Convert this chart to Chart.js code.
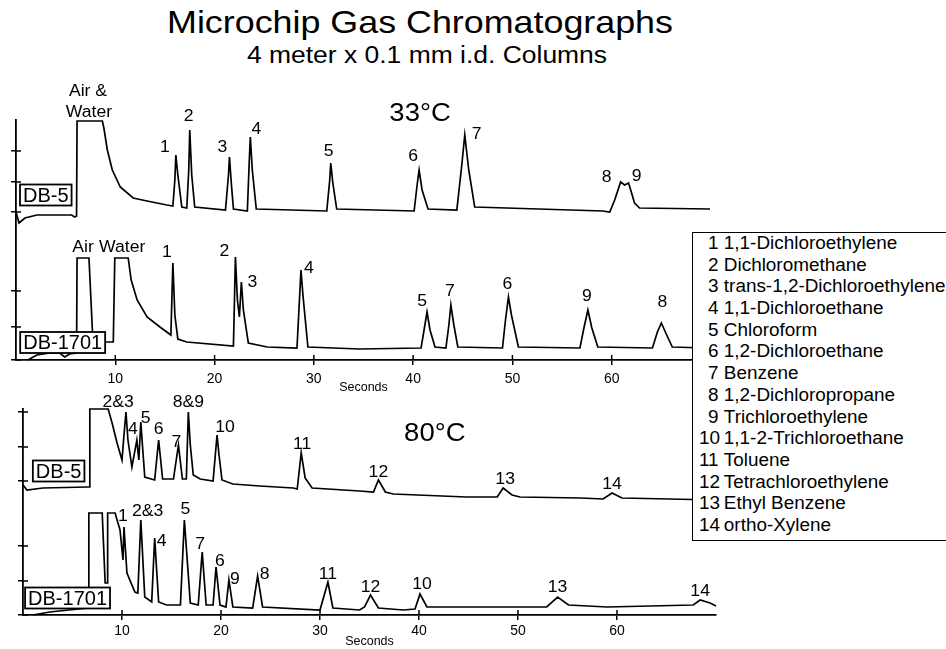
<!DOCTYPE html>
<html>
<head>
<meta charset="utf-8">
<script src="https://cdn.jsdelivr.net/npm/chart.js@4.4.0/dist/chart.umd.min.js"></script>
<style>
  html, body { margin: 0; padding: 0; background: #fff; }
  body { width: 946px; height: 649px; position: relative; overflow: hidden;
         font-family: "Liberation Sans", Arial, Helvetica, sans-serif; color: #000; }
  canvas { position: absolute; }
  #cold { left: 0; top: 80px; }
  #hot { left: 0; top: 380px; }
  .head { position: absolute; left: 0; width: 840px; text-align: center; white-space: nowrap; }
  #title { top: 6px; font-size: 32px; line-height: 32px; transform: scaleX(1.12); }
  #subtitle { top: 44px; font-size: 23px; line-height: 23px; left: 7px; transform: scaleX(1.15); }
  #key { position: absolute; left: 692px; top: 232px; width: 270px; height: 307px;
         border: 1.6px solid #000; background: #fff; z-index: 5; }
  #key .rows { position: absolute; left: 6px; top: 0; transform: scaleX(1.08); transform-origin: left top; }
  #key .row { height: 21.7px; line-height: 21.7px; font-size: 17.5px; white-space: nowrap; }
  #key .num { display: inline-block; width: 18px; text-align: right; margin-right: 5px; }
</style>
</head>
<body>
<div class="head" id="title">Microchip Gas Chromatographs</div>
<div class="head" id="subtitle">4 meter x 0.1 mm i.d. Columns</div>
<canvas id="cold" width="720" height="320"></canvas>
<canvas id="hot" width="730" height="269"></canvas>
<div id="key"><div class="rows"></div></div>
<script>
const FONT = '"Liberation Sans", Arial, Helvetica, sans-serif';

// axes
const secondTicks = [10, 20, 30, 40, 50, 60];
const coldSignalTicks = [0, 33, 69, 148, 178, 209];
const hotSignalTicks = [0, 34, 69, 134, 168, 203];

// compound key
const compoundNums = [1, 2, 3, 4, 5, 6, 7, 8, 9, 10, 11, 12, 13, 14];
const compoundNames = ['1,1-Dichloroethylene', 'Dichloromethane', 'trans-1,2-Dichloroethylene',
  '1,1-Dichloroethane', 'Chloroform', '1,2-Dichloroethane', 'Benzene', '1,2-Dichloropropane',
  'Trichloroethylene', '1,1-2-Trichloroethane', 'Toluene', 'Tetrachloroethylene',
  'Ethyl Benzene', 'ortho-Xylene'];

// traces: [seconds, detector signal]
const db5At33 = [[0,148],[0.3,137],[0.9,142],[2.1,145],[5.6,145],[5.9,143],[6.1,144],[6.15,239],
  [8.7,239],[8.85,232],[9.2,210],[9.7,190],[10.5,173],[11.8,162],[13.2,159],[15.2,155],[15.8,154],
  [16.0,180],[16.1,205],[16.3,185],[16.7,153],[17.2,152],[17.4,190],[17.5,230],[17.7,185],[18.0,153],
  [21.1,150],[21.4,185],[21.5,203],[21.7,175],[21.9,151],[23.3,149],[23.5,200],[23.6,223],[23.8,190],
  [24.2,151],[31.3,149],[31.6,180],[31.7,197],[31.9,178],[32.3,151],[40.1,149],[40.4,175],[40.6,190],
  [40.9,170],[41.5,151],[44.4,150],[44.9,195],[45.2,225],[45.6,190],[46.2,153],[59.1,149],[59.8,148],
  [60.3,160],[60.9,178],[61.3,175],[61.7,177],[62.3,157],[62.8,152],[69.9,151]];

const db1701At33 = [[1.2,0],[2.1,5],[3.4,7],[4.4,7],[4.9,3],[5.4,6],[6.1,7],[6.15,102],[7.35,102],
  [7.75,18],[9.8,18],[9.95,102],[11.3,102],[11.6,80],[12.2,60],[13.2,43],[14.5,33],[15.6,25],[15.8,97],
  [16.0,45],[16.3,21],[17.2,18],[21.9,14],[22.1,103],[22.3,60],[22.5,43],[22.7,78],[22.9,50],[23.4,17],
  [25.3,13],[28.3,12],[28.6,70],[28.7,90],[28.9,65],[29.4,13],[34.6,11],[40.8,12],[41.1,30],[41.4,48],
  [41.7,30],[42.2,13],[43.3,12],[43.6,35],[43.8,55],[44.1,35],[44.5,13],[49.0,12],[49.3,40],[49.6,63],
  [49.9,45],[50.6,13],[56.8,12],[57.2,32],[57.6,50],[58.0,32],[58.6,13],[64.1,12],[64.6,28],[65.0,37],
  [65.4,28],[66.1,13],[69.4,12],[70,12]];

const db5At80 = [[0,130],[0.4,125],[2.0,127],[6.5,128],[6.7,128],[6.75,206],[8.6,206],[9.0,192],
  [9.5,172],[10.0,155],[10.2,180],[10.4,203],[10.6,175],[11.0,148],[11.5,175],[11.7,155],[11.9,193],
  [12.1,165],[12.3,138],[13.3,135],[13.7,175],[14.1,136],[15.2,136],[15.7,170],[16.1,136],[16.5,136],
  [16.7,203],[16.9,170],[17.2,140],[17.9,136],[19.2,134],[19.6,180],[19.8,160],[20.1,135],[21.2,131],
  [23.9,129],[27.3,127],[27.7,126],[28.1,162],[28.5,137],[29.2,127],[34.0,124],[35.4,123],[35.9,135],
  [36.6,123],[37.4,121],[44.8,118],[47.9,118],[48.5,127],[49.4,120],[50.2,118],[56.3,117],[58.6,116],
  [59.5,122],[60.5,117],[70,115]];

const db1701At80 = [[1.0,0],[2.7,3],[6.6,7],[6.65,102],[8.0,102],[8.3,32],[8.5,32],[8.55,102],[9.3,102],
  [9.8,85],[10.1,55],[10.2,88],[10.5,42],[11.3,23],[11.6,22],[11.9,95],[12.3,18],[13.0,13],[13.3,77],
  [13.7,13],[14.5,10],[15.9,10],[16.3,95],[16.9,12],[17.7,10],[18.1,63],[18.5,10],[19.2,10],[19.5,48],
  [19.9,10],[20.5,8],[20.8,35],[21.2,8],[23.2,7],[23.7,39],[24.2,8],[30.0,5],[30.8,33],[31.3,7],[34.0,5],
  [34.5,8],[35.1,20],[35.9,7],[38.4,5],[39.6,6],[40.1,21],[40.8,8],[42.1,8],[52.9,8],[54.0,18],[55.1,10],
  [59.0,8],[67.7,10],[68.4,15],[69.4,12],[70,9]];

// peak labels: [text, seconds, signal]
const db5At33Peaks = [['Air &',7.25,268],['Water',7.35,247],['1',15.0,212],['2',17.4,243],['3',20.8,212],
  ['4',24.2,230],['5',31.5,208],['6',40.0,203],['7',46.4,225],['8',59.5,182],['9',62.5,183]];
const db1701At33Peaks = [['Air',6.75,112],['Water',10.7,112],['1',15.2,107],['2',21.0,108],['3',23.8,77],
  ['4',29.5,91],['5',40.9,58],['7',43.7,68],['6',49.5,75],['9',57.5,63],['8',65.1,57]];
const db5At80Peaks = [['2&3',9.6,212],['4',11.1,185],['5',12.4,196],['6',13.7,185],['7',15.5,172],
  ['8&9',16.7,212],['10',20.4,187],['11',28.2,170],['12',35.9,142],['13',48.7,135],['14',59.5,130]];
const db1701At80Peaks = [['1',10.1,98],['2&3',12.6,103],['4',14.0,73],['5',16.4,105],['7',17.9,70],
  ['6',19.9,53],['9',21.4,35],['8',24.4,40],['11',30.8,40],['12',35.1,27],['10',40.3,30],['13',54.0,27],
  ['14',68.4,23]];

const coldTags = [['DB-5', 3.0, 165], ['DB-1701', 4.7, 17.5]];
const hotTags = [['DB-5', 3.6, 144], ['DB-1701', 4.5, 17]];
const coldTemp = ['33°C', 40.7, 246];
const hotTemp = ['80°C', 41.6, 181];

// key box
const rows = document.querySelector('#key .rows');
compoundNums.forEach((n, i) => {
  const row = document.createElement('div');
  row.className = 'row';
  row.innerHTML = '<span class="num">' + n + '</span>' + compoundNames[i];
  rows.appendChild(row);
});

// peak numbers, column tags and temperature drawn on top of the traces
const annotate = {
  id: 'annotate',
  afterDatasetsDraw(chart, args, opts) {
    const ctx = chart.ctx;
    const x = chart.scales.x, y = chart.scales.y;
    ctx.save();

    // tick marks poke through the axes a little, like the plotter did
    ctx.strokeStyle = '#000';
    ctx.lineWidth = 1.5;
    ctx.beginPath();
    y.ticks.forEach(tk => {
      const py = y.getPixelForValue(tk.value);
      ctx.moveTo(x.left, py);
      ctx.lineTo(x.left + 5, py);
    });
    x.ticks.forEach(tk => {
      const px = x.getPixelForValue(tk.value);
      ctx.moveTo(px, y.bottom);
      ctx.lineTo(px, y.bottom - 5);
    });
    ctx.stroke();

    ctx.fillStyle = '#000';
    ctx.textAlign = 'center';
    ctx.textBaseline = 'middle';
    function write(str, t, s, size) {
      ctx.save();
      ctx.translate(x.getPixelForValue(t), y.getPixelForValue(s));
      ctx.scale(1.1, 1);
      ctx.font = size + 'px ' + FONT;
      ctx.fillText(str, 0, 0);
      ctx.restore();
    }
    opts.peaks.forEach(p => p.forEach(l => write(l[0], l[1], l[2], 16)));
    write(opts.temp[0], opts.temp[1], opts.temp[2], 25);
    opts.tags.forEach(tag => {
      const px = x.getPixelForValue(tag[1]), py = y.getPixelForValue(tag[2]);
      ctx.font = '20px ' + FONT;
      const w = ctx.measureText(tag[0]).width + 6, h = 21;
      ctx.fillStyle = '#fff';
      ctx.fillRect(px - w / 2, py - h / 2, w, h);
      ctx.strokeStyle = '#000';
      ctx.lineWidth = 1.8;
      ctx.strokeRect(px - w / 2, py - h / 2, w, h);
      ctx.fillStyle = '#000';
      ctx.fillText(tag[0], px, py + 1);
    });
    ctx.restore();
  }
};

function trace(points) {
  return {
    data: points.map(p => ({x: p[0], y: p[1]})),
    borderColor: '#000',
    borderWidth: 1.7,
    pointRadius: 0,
    tension: 0,
    fill: false,
    clip: 6
  };
}

function makeChart(id, traces, yMax, yTicks, pad, axisHeight, titlePad, tickPad, notes) {
  return new Chart(document.getElementById(id), {
    type: 'line',
    data: { datasets: traces.map(trace) },
    plugins: [annotate],
    options: {
      responsive: false,
      animation: false,
      layout: { padding: pad },
      plugins: {
        legend: { display: false },
        tooltip: { enabled: false },
        annotate: notes
      },
      scales: {
        x: {
          type: 'linear',
          min: 0,
          max: 70,
          afterBuildTicks: a => { a.ticks = secondTicks.map(v => ({value: v})); },
          afterFit: a => { a.height = axisHeight; },
          grid: { drawOnChartArea: false, tickLength: 5, color: '#000', lineWidth: 1.5 },
          border: { color: '#000', width: 1.8 },
          ticks: { color: '#000', padding: tickPad, maxRotation: 0, font: { family: FONT, size: 14 } },
          title: { display: true, text: 'Seconds', color: '#000',
                   font: { family: FONT, size: 12.5 }, padding: { top: 0, bottom: titlePad } }
        },
        y: {
          min: 0,
          max: yMax,
          afterBuildTicks: a => { a.ticks = yTicks.map(v => ({value: v})); },
          afterFit: a => { a.width = 8; },
          grid: { drawOnChartArea: false, tickLength: 5, color: '#000', lineWidth: 1.5 },
          border: { color: '#000', width: 1.8 },
          ticks: { display: false }
        }
      }
    }
  });
}

makeChart('cold', [db5At33, db1701At33], 240, coldSignalTicks,
  { left: 8, right: 9, top: 40, bottom: 0 }, 40, 4.5, 6,
  { peaks: [db5At33Peaks, db1701At33Peaks], tags: coldTags, temp: coldTemp });

makeChart('hot', [db5At80, db1701At80], 206, hotSignalTicks,
  { left: 15, right: 14, top: 29, bottom: 0 }, 34, 0, 3,
  { peaks: [db5At80Peaks, db1701At80Peaks], tags: hotTags, temp: hotTemp });
</script>
</body>
</html>
